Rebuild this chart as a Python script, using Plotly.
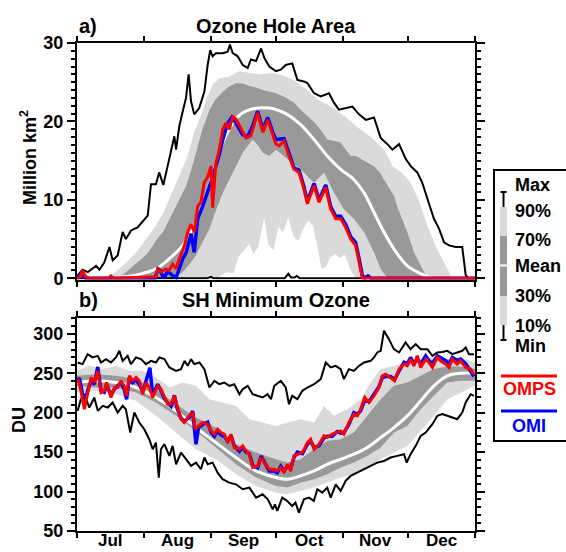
import pandas as pd
import plotly.graph_objects as go

# ---------------- DATA (day offset from 1 July, value) ----------------
# Panel a) Ozone hole area, million km^2
area_max = [(0, 0.3), (2.6, 1.1), (5, 0.8), (8.8, 1.6), (10.4, 1.1), (12.6, 2.0), (15, 4.0), (16.5, 2.3),
            (18.8, 2.9), (21.1, 5.9), (22.6, 5.0), (25, 6.1), (28, 6.5), (30.4, 7.3), (32.7, 8.0), (34.2, 12.0),
            (36.5, 12.0), (38, 13.5), (39.9, 11.9), (41.9, 14.3), (43.5, 16.4), (45, 18.1), (45.8, 16.4),
            (47.3, 19.4), (48.9, 21.3), (50.4, 23.0), (51.6, 26.0), (52.7, 22.6), (54.2, 20.9), (56.5, 21.7),
            (58.9, 23.8), (60.4, 27.2), (61.6, 29.1), (62.7, 28.3), (64.2, 28.7), (67.4, 28.7), (69.7, 28.9),
            (70.7, 29.8), (72, 28.7), (74.3, 28.3), (76.6, 27.2), (78.9, 26.8), (80.4, 27.9), (82.8, 27.7),
            (85.1, 29.3), (86.6, 28.1), (88.9, 27.0), (92, 26.4), (94.2, 26.6), (96.5, 27.2), (99.5, 27.4),
            (101.9, 25.3), (104.9, 25.1), (106.5, 24.9), (109.6, 23.6), (112.7, 23.2), (116.5, 23.6),
            (118.8, 22.4), (121.1, 21.5), (124.1, 21.7), (127.3, 21.9), (130.4, 20.9), (133.5, 20.2),
            (137.3, 20.5), (140.4, 17.9), (143.5, 17.1), (145.8, 16.4), (148.9, 17.1), (152, 15.2),
            (154.3, 14.3), (157.3, 13.5), (159.6, 12.2), (162, 10.1), (165, 7.6), (167.4, 6.3), (169.7, 4.6),
            (172, 4.2), (175.1, 4.0), (178.1, 4.0), (179.7, 0.4), (181, 0.0), (184, 0.0)]
area_p90 = [(12, 0), (18, 0.8), (23, 2.1), (28, 3.5), (32, 5.0), (36, 6.5), (40, 8.4), (44, 10.9), (48, 13.5),
            (51, 15.5), (54, 18.5), (57, 20.5), (60, 23.0), (63, 24.8), (66, 25.5), (70, 25.7), (75, 26.4),
            (80, 26.2), (85, 26.0), (90, 26.2), (95, 25.9), (100, 25.3), (106, 24.1), (112, 22.7), (118, 21.8),
            (124, 20.6), (130, 19.2), (136, 18.0), (142, 16.4), (146, 14.3), (150, 13.5), (154, 12.3),
            (158, 10.0), (162, 6.7), (166, 4.0), (170, 1.9), (173.5, 0)]
area_p70 = [(18, 0), (22, 0.6), (26, 1.6), (30, 2.5), (33, 3.3), (37, 5.0), (40, 6.0), (44, 8.2), (47, 9.8),
            (50.5, 11.8), (53, 14.0), (55.3, 16.2), (58, 19.0), (61.3, 21.5), (64, 22.8), (67.4, 23.8),
            (70, 24.4), (73.5, 24.9), (77, 24.8), (80, 24.5), (83, 24.3), (86, 24.0), (89, 23.8), (92, 23.6),
            (96, 23.1), (100.3, 22.4), (103, 21.6), (106.5, 20.7), (110, 19.8), (113, 18.8), (115.7, 17.7),
            (119, 17.5), (121.9, 17.3), (124, 16.5), (126.5, 15.6), (129, 15.6), (131.2, 15.2), (134, 14.8),
            (137.3, 14.3), (140, 13.5), (141.9, 12.6), (144, 11.6), (146.6, 10.5), (148, 9.2), (149.6, 8.0),
            (151, 7.0), (152.7, 5.9), (155.8, 3.3), (158.9, 1.6), (162, 0)]
area_mean = [(0, 0), (15, 0.1), (25, 0.3), (30, 0.6), (36.5, 1.2), (42.7, 2.5), (48.9, 4.2), (53.5, 6.3),
             (58.1, 9.4), (62.7, 13.2), (67.4, 17.3), (72, 19.8), (76.6, 21.1), (82.8, 21.7), (88.9, 21.7),
             (92, 21.5), (97.2, 20.9), (103.4, 19.6), (109.6, 17.7), (115.7, 15.6), (121.9, 13.9), (128, 12.6),
             (132.7, 10.9), (137.3, 8.4), (141.9, 5.9), (146.6, 3.7), (152.7, 1.6), (158.9, 0.6), (164, 0)]
area_p30 = [(45, 0), (48.9, 0.8), (52, 1.8), (55, 2.9), (58, 4.6), (61.2, 6.3), (64, 8.5), (67.4, 10.9),
            (72, 13.5), (76.6, 16.0), (81.2, 17.7), (83.5, 17.0), (85.9, 16.0), (88.9, 15.6), (92, 16.4),
            (97.2, 15.2), (103.4, 13.9), (109.6, 12.2), (114.2, 13.5), (118.8, 10.9), (123.4, 8.8),
            (128, 7.6), (132.7, 5.9), (137.3, 3.3), (140.4, 1.2), (143.5, 0)]
area_p10 = [(64.6, 0), (69.2, 0.8), (72.3, 0.6), (74.6, 2.7), (77.7, 3.7), (79.7, 4.4), (81.5, 3.1),
            (83.8, 4.0), (86.5, 7.8), (88.4, 4.4), (90.8, 3.5), (93.1, 6.5), (95.3, 5.9), (97.7, 7.8),
            (100, 5.4), (102.3, 4.8), (104.6, 6.3), (106.9, 7.3), (109.2, 6.7), (110.8, 4.2), (113.1, 1.2),
            (115.4, 1.6), (117, 2.7), (119.3, 3.1), (121.6, 2.6), (123.9, 3.0), (126.2, 1.2), (128.5, 0.2),
            (130, 0)]
area_min = [(0, 0), (60, 0), (62, 0.2), (63, 0), (96, 0), (97.7, 0.6), (99, 0.1), (100.5, 0.1), (101.6, 0.3),
            (103, 0), (184, 0)]
area_omps = [(0, 0), (1.5, 0.2), (2.6, 1.0), (4, 0.2), (6, 0), (14.5, 0), (15.7, 0.3), (17, 0), (36.5, 0.2),
             (37.3, 1.2), (39, 0.8), (41, 1.2), (42.5, 1.0), (44.2, 1.8), (45.8, 1.2), (47.3, 2.5), (49.7, 4.2),
             (51.2, 5.9), (52.7, 6.9), (54.2, 5.9), (55.8, 9.2), (57.3, 9.7), (58.8, 12.2), (60.4, 12.9),
             (62, 14.3), (62.7, 9.0), (64.2, 14.7), (65.8, 16.4), (67.4, 19.0), (68.9, 19.8), (70.4, 19.0),
             (72, 20.6), (73.5, 20.3), (75.8, 19.0), (78.1, 17.9), (80.4, 18.2), (83.5, 21.1), (85.9, 18.6),
             (88.2, 20.2), (90.5, 18.3), (92, 17.1), (93.6, 16.9), (95.7, 17.5), (98, 15.6), (100.3, 13.9),
             (102.6, 13.5), (104.9, 11.4), (106.5, 9.5), (109.6, 11.8), (111.9, 9.7), (115, 11.6),
             (117.3, 8.8), (119.6, 7.6), (121.9, 7.6), (124.2, 6.5), (126.5, 5.0), (128.8, 4.2), (130.4, 2.1),
             (131.9, 0), (184, 0)]
area_omi = [(0, 0), (2, 0.6), (4, 0), (36, 0), (37.5, 1.2), (38.5, 1.0), (40, 0), (42, 0.9), (44, 0.4),
            (45.8, 0.1), (47, 1.0), (48.9, 2.5), (50.5, 3.3), (52.7, 5.7), (54.2, 3.3), (55.8, 7.6), (58.1, 9.2),
            (60.4, 10.9), (62.7, 12.9), (64.2, 14.3), (65.8, 15.8), (67.4, 17.7), (69.7, 19.8), (71.5, 20.5),
            (73.5, 19.8), (76.6, 18.3), (78.9, 18.1), (81.2, 19.4), (83.5, 21.3), (85.9, 19.0), (88.2, 20.5),
            (90.5, 18.6), (92, 17.7), (95.7, 17.8), (98, 15.9), (100.3, 14.1), (102.6, 13.8), (104.9, 11.7),
            (106.5, 9.8), (109.6, 12.1), (111.9, 10.0), (115, 11.9), (117.3, 9.1), (119.6, 7.9), (121.9, 7.9),
            (124.2, 6.9), (126.5, 5.3), (128.8, 4.6), (130.4, 2.5), (131.9, 0.4), (133, 0), (134.5, 0.3),
            (136, 0), (184, 0)]

# Panel b) SH minimum ozone, DU
du_max = [(0.3, 263.6), (2.6, 261.5), (4.9, 274.2), (7.2, 270), (9.6, 272), (11.1, 263.6), (13.4, 267.9),
          (15.7, 263.6), (18, 270), (19.6, 278.4), (21.1, 265.7), (23.4, 272), (24.9, 261.5), (27.3, 270),
          (29.6, 267.9), (31.9, 261.5), (34.2, 265.7), (36.5, 263.6), (38.1, 270), (40.4, 267.9), (42.7, 257.3),
          (45.8, 253), (48.1, 255.2), (49.7, 265.7), (51.2, 259.4), (52.7, 267.9), (54.2, 261.5), (56.6, 263.6),
          (58.9, 255.2), (61.2, 231.9), (63.5, 240.4), (65.8, 236.1), (68.1, 238.2), (70.4, 234), (72.7, 236.1),
          (75.1, 223.4), (76.6, 229.8), (78.9, 234), (81.2, 223.4), (83.5, 221.3), (85.8, 219.2), (88.1, 223.4),
          (89.7, 217.1), (91.2, 234), (92.9, 238.2), (94.2, 240.4), (96.5, 231.9), (98, 210.7), (99.5, 221.3),
          (101.9, 217.1), (104.2, 227.7), (106.5, 231.9), (109.6, 236.1), (112.7, 242.5), (115, 263.6),
          (117.3, 257.3), (119.6, 259.4), (121.9, 255.2), (123.4, 242.5), (125.7, 255.2), (128, 253),
          (130.4, 259.4), (132.7, 263.6), (135.8, 265.7), (137.3, 270), (138.8, 276.3), (140.4, 278.4),
          (141.9, 303.8), (144.2, 293.2), (146.5, 280.5), (148.9, 276.3), (151.9, 289), (154.2, 280.5),
          (156.6, 286.9), (158.9, 280.5), (162, 280.5), (164.3, 272.1), (166.6, 276.3), (168.9, 277),
          (171.2, 278.4), (173.5, 274.2), (175.8, 276.3), (178.1, 278.4), (179.7, 282.7), (181.2, 274.2),
          (183.5, 274.2)]
du_p90 = [(0, 253), (5.7, 259.4), (11.9, 255.2), (18, 259.4), (24.2, 253), (30.4, 253), (36.5, 244.6),
          (42.7, 231.9), (48.9, 238.2), (55, 234), (61.2, 217.1), (67.4, 212.9), (73.5, 208.6), (79.7, 191.7),
          (85.9, 187.5), (92, 183.2), (97.2, 187.5), (103.4, 191.7), (109.6, 187.5), (114.2, 208.6),
          (118.8, 196), (125, 204.4), (131.2, 217.1), (135.8, 238.2), (140.4, 255.2), (146.5, 259.4),
          (152.7, 263.6), (158.9, 267.9), (165, 270), (171.2, 267.9), (177.3, 270), (184, 263.6)]
du_p70 = [(0, 246.7), (8.8, 248.8), (18, 246.7), (27.3, 242.5), (36.5, 229.8), (45.8, 210.7), (55, 193.8),
          (64.2, 181.1), (73.5, 160), (82.8, 149.4), (92, 141), (97.2, 136.7), (103.4, 141), (109.6, 153.6),
          (115.7, 164.2), (121.9, 166.3), (128, 174.8), (134.2, 195.9), (140.4, 217.1), (146.5, 234),
          (152.7, 238.2), (158.9, 246.7), (165, 255.2), (171.2, 258.5), (177.3, 258.5), (184, 255.2)]
du_mean = [(0, 238.2), (8.8, 240.4), (18, 238.2), (27.3, 231.9), (36.5, 219.2), (45.8, 202.3), (55, 181.1),
           (64.2, 162.1), (73.5, 143.1), (82.8, 126.1), (92, 117.7), (97.2, 115.6), (103.4, 119.8),
           (109.6, 126.1), (115.7, 134.6), (121.9, 140.9), (128, 147.3), (134.2, 155.8), (140.4, 168.4),
           (146.5, 181.1), (152.7, 195.9), (158.9, 215), (165, 234), (171.2, 246.7), (177.3, 250.1),
           (184, 250.1)]
du_p30 = [(0, 234), (8.8, 231.9), (18, 231.9), (27.3, 225.5), (36.5, 212.9), (45.8, 196), (55, 176.9),
          (64.2, 155.8), (73.5, 134.6), (82.8, 117.7), (92, 107.1), (97.2, 105), (103.4, 111.3), (109.6, 115.6),
          (115.7, 121.9), (121.9, 130.4), (128, 136.7), (134.2, 145.2), (140.4, 155.8), (146.5, 174.8),
          (152.7, 183.2), (158.9, 204.4), (165, 221.3), (171.2, 238.2), (177.3, 240.4), (184, 240.4)]
du_p10 = [(0, 225.5), (8.8, 227.7), (18, 223.4), (27.3, 215), (36.5, 196), (45.8, 174.8), (55, 153.6),
          (64.2, 141), (73.5, 121.9), (82.8, 107.1), (92, 98.6), (97.2, 96.5), (103.4, 100.8), (109.6, 105),
          (115.7, 111.3), (121.9, 117.7), (128, 121.9), (134.2, 130.4), (140.4, 141), (146.5, 149.4),
          (152.7, 157.9), (158.9, 176.9), (165, 196), (171.2, 217.1), (177.3, 225.5), (184, 234)]
du_min = [(0.3, 202.3), (1.8, 217.1), (3.4, 223.4), (5.7, 206.5), (8, 219.2), (9.6, 202.3), (11.9, 208.6),
          (14.2, 206.5), (16.5, 212.9), (18.8, 200.2), (21.1, 208.6), (22.6, 204.4), (24.6, 174.8),
          (26.5, 200.2), (28.8, 187.5), (31.1, 179), (33.4, 166.3), (35, 153.6), (36.5, 162.1), (37.8, 117.7),
          (38.8, 153.6), (40.4, 160), (42.7, 145.2), (44.2, 157.9), (45.8, 134.6), (48.1, 149.4), (50.4, 141),
          (52.7, 132.5), (55, 136.7), (57.3, 128.3), (58.9, 143.1), (60.4, 134.6), (62.7, 136.7), (65, 124),
          (67.3, 115.6), (70.4, 111.3), (73.5, 109.2), (76.6, 102.9), (79.7, 105), (82.8, 92.3), (85.8, 96.5),
          (88.2, 90.2), (90.5, 77.5), (91.5, 83.8), (92.6, 75.4), (94.9, 92.3), (97.2, 88.1), (99.5, 81.7),
          (101, 86), (102.6, 73.3), (104.9, 90.2), (107.2, 92.3), (109.5, 88.1), (111.1, 102.9), (113.4, 98.6),
          (115.7, 105), (117.3, 92.3), (119.6, 109.2), (121.9, 100.8), (124.2, 113.5), (126.5, 119.8),
          (129.6, 124), (132.7, 128.3), (135.8, 132.5), (138.8, 136.7), (141.9, 138.8), (145, 143.1),
          (148.1, 145.2), (151.2, 147.3), (152.4, 136.7), (154.2, 147.3), (156.6, 157.9), (158.9, 170.6),
          (161.2, 174.8), (164.3, 185.4), (166.6, 196), (168.9, 198.1), (171.2, 196), (173.5, 193.8),
          (175.8, 191.7), (178.1, 200.2), (179.7, 212.9), (182, 223.4), (183.5, 221.3)]
du_omps = [(0.5, 242.5), (1.8, 227.7), (3.4, 204.4), (4.9, 225.5), (6.5, 244.6), (8, 238.2), (9.6, 253),
           (11.1, 225.5), (12.6, 227.7), (13.7, 238.2), (15.7, 219.2), (17.3, 231.9), (18.8, 231.9),
           (20.3, 240.4), (21.8, 234), (22.9, 221.3), (24.2, 246.7), (25.7, 240.4), (27.3, 244.6),
           (28.8, 240.4), (30.4, 223.4), (31.9, 238.2), (33.4, 231.9), (35, 219.2), (37.3, 234), (38.8, 229.8),
           (40.4, 219.2), (41.9, 210.7), (43.5, 210.7), (45, 221.3), (46.5, 206.5), (48.1, 191.7), (49.6, 187.5),
           (51.9, 196), (53.5, 200.2), (54.7, 179), (56.2, 183.2), (58.1, 187.5), (60.4, 185.4), (62, 176.9),
           (63.5, 172.7), (65, 179), (66.5, 174.8), (68.1, 172.7), (69.7, 162.1), (71.2, 172.7), (72.7, 155.8),
           (75.1, 153.6), (76.6, 157.9), (78.1, 151.5), (79.7, 147.3), (81.2, 130.4), (83.5, 132.5),
           (85.1, 143.1), (86.6, 136.7), (88.9, 128.3), (91.1, 128.3), (92.6, 126.1), (94.2, 130.4),
           (95.7, 124), (97.2, 134.6), (98.8, 126.1), (100.3, 145.2), (101.9, 147.3), (104.2, 149.4),
           (106.5, 162.1), (108, 166.3), (109.6, 153.6), (111.9, 160), (114.2, 170.6), (115.7, 168.4),
           (118, 172.7), (120.3, 174.8), (121.9, 176.9), (123.4, 172.7), (125.7, 187.5), (128, 198.1),
           (129.6, 196), (131.1, 204.4), (133, 219.2), (135, 212.9), (137.3, 221.3), (139.6, 231.9),
           (141.1, 246.7), (142.7, 248.8), (145, 244.6), (146.8, 240.4), (148.9, 255.2), (151.2, 261.5),
           (152.7, 259.4), (154.2, 267.9), (155.8, 259.4), (157.3, 272.1), (158.9, 257.3), (161.2, 267.9),
           (162.7, 263.6), (164.3, 257.3), (166.6, 270), (168.1, 265.7), (170.5, 261.5), (172, 257.3),
           (173.5, 267.9), (175.8, 261.5), (177.3, 265.7), (179.7, 257.3), (182, 255.2), (183.5, 248.8)]
du_omi = [(0, 238), (1, 244), (1.8, 235), (3.4, 210), (4.9, 228), (6.5, 240), (8, 236), (9.6, 258), (11.1, 228),
          (12.6, 226), (13.7, 236), (15.7, 222), (17.3, 230), (18.8, 234), (20.3, 238), (21.8, 230), (22.9, 217),
          (24.2, 244), (25.7, 238), (27.3, 242), (28.8, 236), (30.4, 226), (31.9, 240), (33.7, 257), (35, 222),
          (37.3, 236), (38.8, 228), (40.4, 218), (41.9, 212), (43.5, 208), (45, 222), (46.5, 204), (48.1, 193),
          (49.6, 189), (51.9, 194), (53.5, 202), (55, 160), (56.2, 181), (58.1, 185), (60.4, 188), (62, 175),
          (63.5, 170), (65, 177), (66.5, 172), (68.1, 170), (69.7, 164), (71.2, 171), (72.7, 158), (75.1, 151),
          (76.6, 156), (78.1, 150), (79.7, 148), (81.2, 133), (83.5, 130), (85.1, 145), (86.6, 138), (88.9, 126),
          (91.1, 126), (92.6, 124), (94.2, 132), (95.7, 126), (97.2, 132), (98.8, 130), (100.3, 143),
          (101.9, 150), (104.2, 148), (106.5, 160), (108, 164), (109.6, 156), (111.9, 158), (114.2, 168),
          (115.7, 170), (118, 170), (120.3, 176), (121.9, 174), (123.4, 175), (125.7, 185), (128, 200),
          (129.6, 198), (131.1, 202), (133, 216), (135, 214), (137.3, 224), (139.6, 233), (141.1, 244),
          (142.7, 246), (145, 246), (146.8, 242), (148.9, 253), (151.2, 264), (152.7, 262), (154.2, 270),
          (155.8, 262), (157.3, 268), (158.9, 262), (161.2, 272), (162.7, 266), (164.3, 262), (166.6, 272),
          (168.1, 270), (170.5, 266), (172, 262), (173.5, 270), (175.8, 266), (177.3, 268), (179.7, 262),
          (182, 252), (183.5, 246)]

START_DATE = "2000-07-01"
END_DATE = "2001-01-01"
month_labels = ["Jul", "Aug", "Sep", "Oct", "Nov", "Dec"]
month_mid_dates = ["2000-07-16 12:00", "2000-08-16 12:00", "2000-09-16", "2000-10-16 12:00",
                   "2000-11-16", "2000-12-16 12:00"]
legend_labels = ["Max", "90%", "70%", "Mean", "30%", "10%", "Min"]

# ---------------- STYLE ----------------
LIGHT = "#dadada"
DARK = "#999999"
FONT = "Liberation Sans"
BASE = pd.Timestamp(START_DATE)

L, R, T, B = 77, 91, 43, 21
W, H = 566, 552
PW, PH = W - L - R, H - T - B


def px_x(px):
    return (px - L) / PW


def px_y(py):
    return (H - B - py) / PH


def to_xy(pairs):
    d = [p[0] for p in pairs]
    v = [p[1] for p in pairs]
    return list(BASE + pd.to_timedelta(d, unit="D")), v


def band(upper, lower, color, xa, ya):
    xu, yu = to_xy(upper)
    xl, yl = to_xy(lower)
    return go.Scatter(x=xu + xl[::-1], y=yu + yl[::-1], fill="toself", fillcolor=color,
                      line=dict(width=0), mode="lines", hoverinfo="skip", xaxis=xa, yaxis=ya,
                      showlegend=False)


def line(pairs, color, width, xa, ya, shape="linear"):
    x, y = to_xy(pairs)
    return go.Scatter(x=x, y=y, mode="lines", line=dict(color=color, width=width, shape=shape),
                      xaxis=xa, yaxis=ya, showlegend=False)


fig = go.Figure()
for xa, ya, p90, p70, mean, p30, p10, mx, mn, omps, omi in [
    ("x", "y", area_p90, area_p70, area_mean, area_p30, area_p10, area_max, area_min, area_omps, area_omi),
    ("x2", "y2", du_p90, du_p70, du_mean, du_p30, du_p10, du_max, du_min, du_omps, du_omi),
]:
    fig.add_trace(band(p90, p10, LIGHT, xa, ya))
    fig.add_trace(band(p70, p30, DARK, xa, ya))
    fig.add_trace(line(mean, "white", 3, xa, ya, "spline"))
    fig.add_trace(line(mx, "black", 2, xa, ya))
    fig.add_trace(line(mn, "black", 2, xa, ya))
    fig.add_trace(line(omi, "#0000ff", 3.5, xa, ya))
    fig.add_trace(line(omps, "#ff0000", 3, xa, ya))

tickfont = dict(family=FONT, size=18, color="black", weight="bold")
xcommon = dict(type="date", range=[START_DATE, END_DATE], tick0=START_DATE, dtick="M1",
               showticklabels=False, showline=True, linewidth=2, linecolor="black",
               mirror="allticks", ticks="outside", ticklen=5, tickwidth=2, tickcolor="black",
               showgrid=False, zeroline=False, automargin=False)
ycommon = dict(showline=True, linewidth=2, linecolor="black", mirror="allticks", ticks="outside",
               ticklen=8, tickwidth=2, tickcolor="black", showgrid=False, zeroline=False,
               tickfont=tickfont, automargin=False)

y_top0 = px_y(279.5)
y_bot1 = px_y(318)
fig.update_layout(
    width=W, height=H, margin=dict(l=L, r=R, t=T, b=B, autoexpand=False),
    paper_bgcolor="white", plot_bgcolor="white", showlegend=False,
    xaxis=dict(**xcommon, anchor="y"),
    yaxis=dict(**ycommon, domain=[y_top0, 1], range=[-0.15, 30], tickvals=[0, 10, 20, 30],
               minor=dict(dtick=1, tick0=0, ticklen=4, tickwidth=1.5, ticks="outside", tickcolor="black",
                          showgrid=False)),
    xaxis2=dict(**xcommon, anchor="y2"),
    yaxis2=dict(**ycommon, domain=[0, y_bot1], range=[50, 320], tickvals=[50, 100, 150, 200, 250, 300],
                minor=dict(dtick=10, tick0=50, ticklen=4, tickwidth=1.5, ticks="outside",
                           tickcolor="black", showgrid=False)),
)

bold = lambda s, c="black": dict(family=FONT, size=s, color=c, weight="bold")
ann = []
ann.append(dict(x=0, y=px_y(26), xref="paper", yref="paper", text="a)", showarrow=False,
                xanchor="left", yanchor="middle", font=bold(20)))
ann.append(dict(x=0.5, y=px_y(26), xref="paper", yref="paper", text="Ozone Hole Area", showarrow=False,
                xanchor="center", yanchor="middle", font=bold(20)))
ann.append(dict(x=0, y=px_y(300), xref="paper", yref="paper", text="b)", showarrow=False,
                xanchor="left", yanchor="middle", font=bold(20)))
ann.append(dict(x=0.5, y=px_y(300), xref="paper", yref="paper", text="SH Minimum Ozone", showarrow=False,
                xanchor="center", yanchor="middle", font=bold(20)))
ann.append(dict(x=px_x(29), y=px_y(158), xref="paper", yref="paper", text="Million km<sup>2</sup>",
                showarrow=False, textangle=-90, xanchor="center", yanchor="middle", font=bold(18)))
ann.append(dict(x=px_x(19), y=px_y(420), xref="paper", yref="paper", text="DU",
                showarrow=False, textangle=-90, xanchor="center", yanchor="middle", font=bold(18)))

# month labels centred in each month under the lower panel
for lab, md in zip(month_labels, month_mid_dates):
    ann.append(dict(x=md, y=px_y(551), xref="x2", yref="paper", text=lab, showarrow=False,
                    xanchor="center", yanchor="bottom", borderpad=0, font=bold(17)))

# legend panel
label_y = [185, 211, 240, 266, 296, 326, 346]
for lab, ly in zip(legend_labels, label_y):
    ann.append(dict(x=px_x(513), y=px_y(ly), xref="paper", yref="paper", text=lab, showarrow=False,
                    xanchor="left", yanchor="middle", font=bold(18)))
ann.append(dict(x=px_x(529), y=px_y(389), xref="paper", yref="paper", text="OMPS", showarrow=False,
                xanchor="center", yanchor="middle", font=bold(18, "#ff0000")))
ann.append(dict(x=px_x(529), y=px_y(426), xref="paper", yref="paper", text="OMI", showarrow=False,
                xanchor="center", yanchor="middle", font=bold(18, "#0000ff")))
fig.update_layout(annotations=ann)

shapes = []


def rect(x0, y0, x1, y1, fill, lw=0, lc="black"):
    shapes.append(dict(type="rect", xref="paper", yref="paper", x0=px_x(x0), x1=px_x(x1), y0=px_y(y0),
                       y1=px_y(y1), fillcolor=fill, line=dict(width=lw, color=lc), layer="above"))


def seg(x0, y0, x1, y1, color, w):
    shapes.append(dict(type="line", xref="paper", yref="paper", x0=px_x(x0), x1=px_x(x1), y0=px_y(y0),
                       y1=px_y(y1), line=dict(color=color, width=w), layer="above"))


rect(494, 170, 572, 441, "rgba(0,0,0,0)", 2)
seg(503.5, 192, 503.5, 207, "black", 2)
seg(500.5, 192, 506.5, 192, "black", 2)
rect(500, 207, 507, 236, LIGHT)
rect(500, 236, 507, 296, DARK)
seg(500, 265.5, 507, 265.5, "white", 2)
rect(500, 296, 507, 325, LIGHT)
seg(503.5, 325, 503.5, 340, "black", 2)
seg(500.5, 340, 506.5, 340, "black", 2)
seg(501, 376, 557, 376, "#ff0000", 3)
seg(501, 411, 557, 411, "#0000ff", 3)
fig.update_layout(shapes=shapes)

fig.write_html("out.html")
